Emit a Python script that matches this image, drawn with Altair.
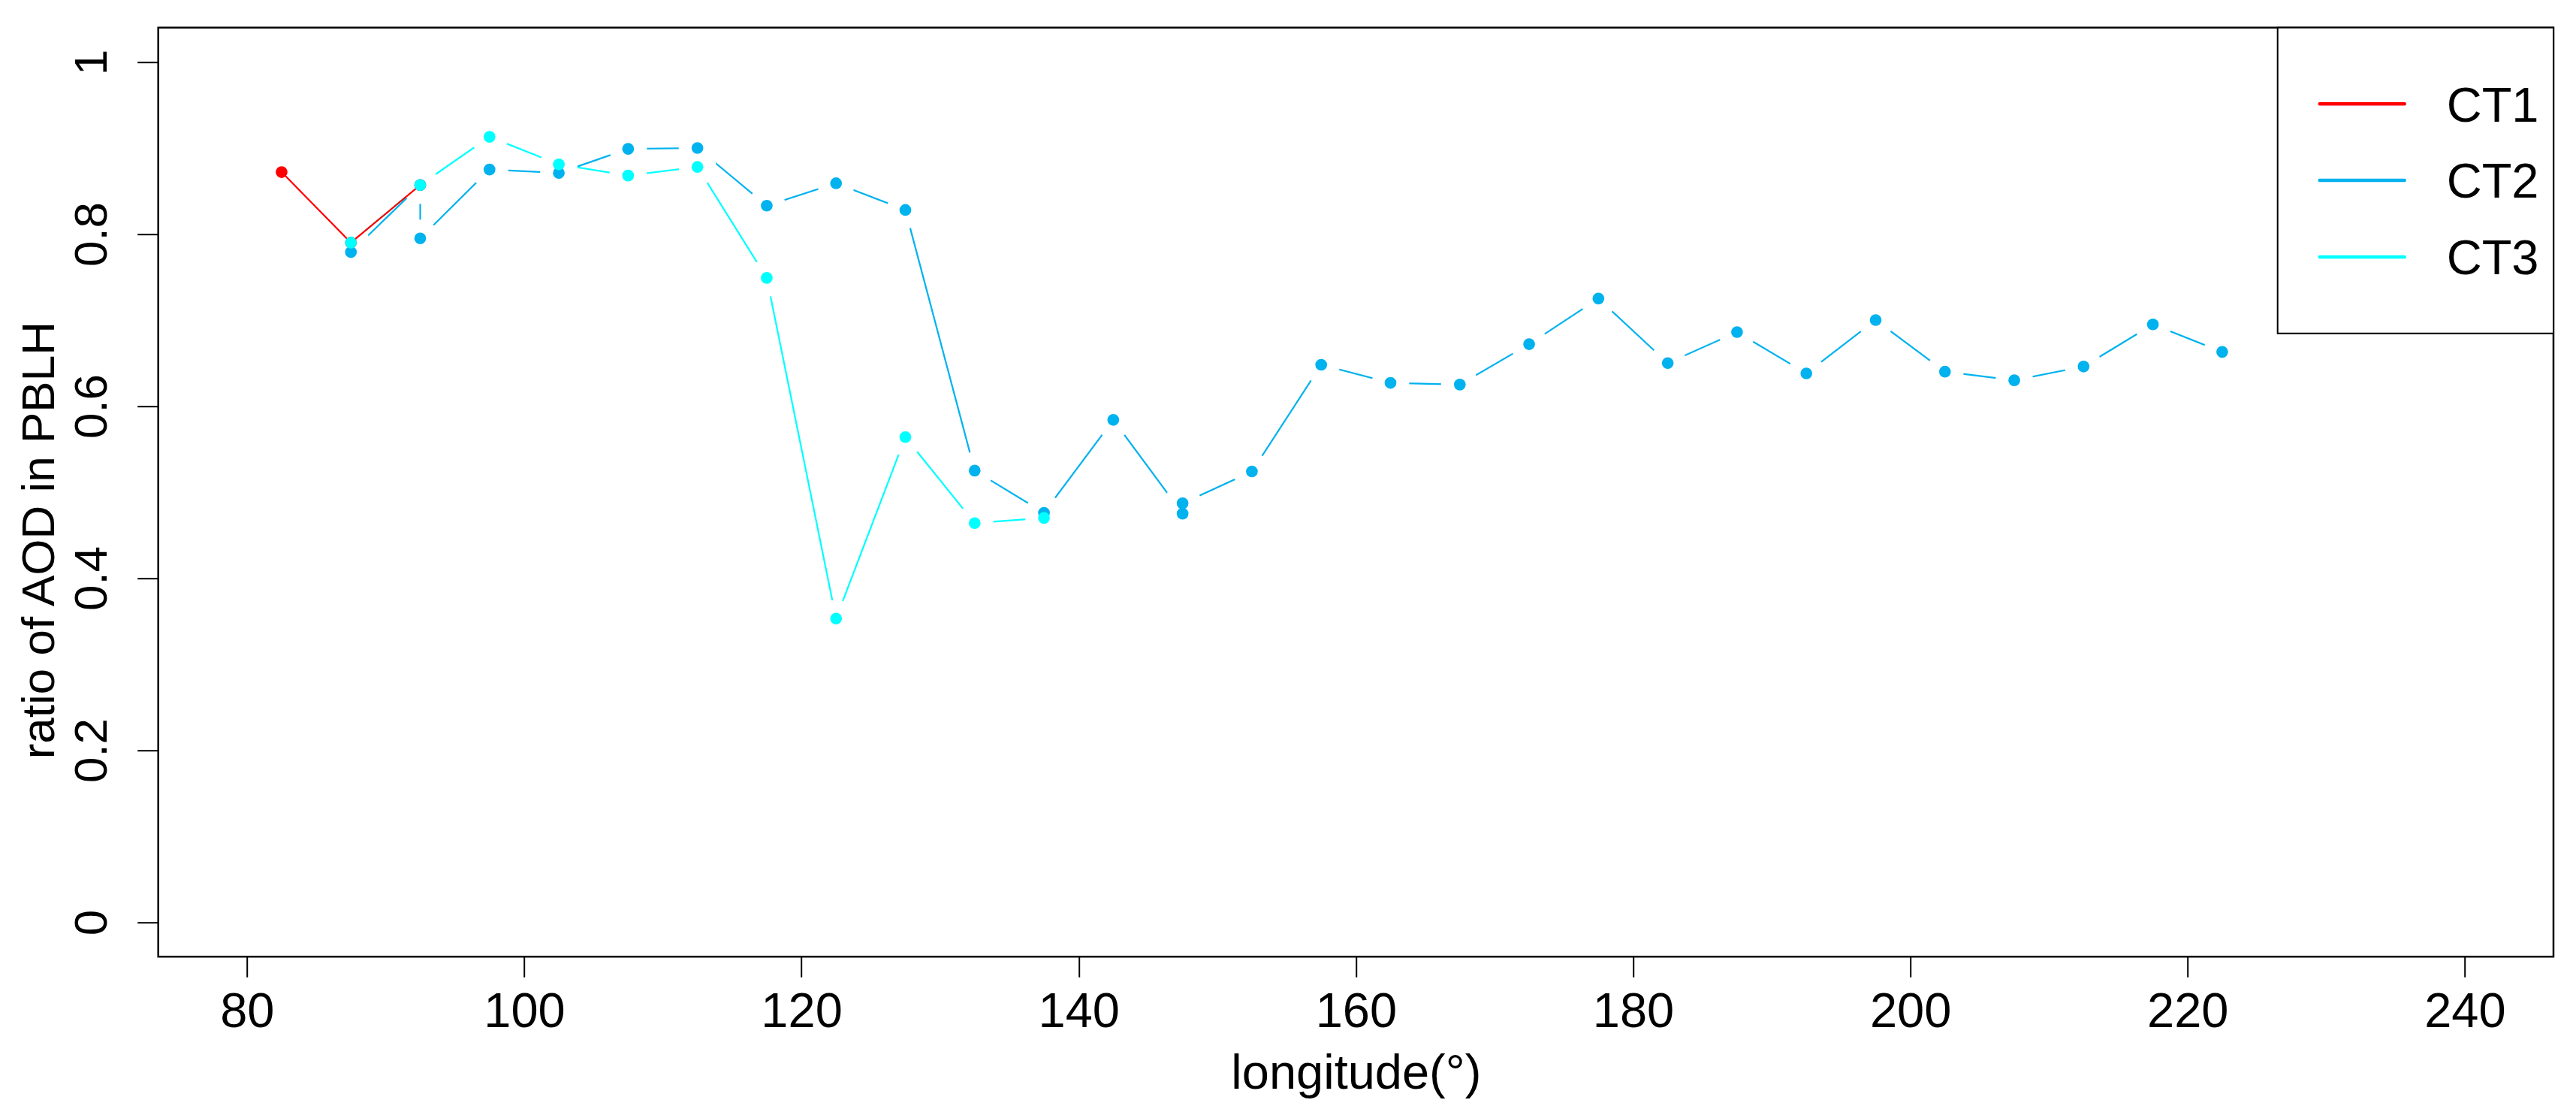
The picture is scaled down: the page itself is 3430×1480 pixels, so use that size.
import altair as alt
import pandas as pd

# ---------------- data ----------------
series_names = ["CT1", "CT2", "CT3"]
series_colors = ["#FF0000", "#00B2EE", "#00FFFF"]

ct1_lon = [82.5, 87.5, 92.5]
ct1_val = [0.872, 0.790, 0.857]

ct2_lon = [87.5, 92.5, 92.5, 97.5, 102.5, 107.5, 112.5, 117.5, 122.5, 127.5,
           132.5, 137.5, 142.5, 147.5, 147.5, 152.5, 157.5, 162.5, 167.5, 172.5,
           177.5, 182.5, 187.5, 192.5, 197.5, 202.5, 207.5, 212.5, 217.5, 222.5]
ct2_val = [0.779, 0.857, 0.795, 0.875, 0.871, 0.899, 0.900, 0.833, 0.859, 0.828,
           0.525, 0.476, 0.584, 0.475, 0.487, 0.524, 0.648, 0.627, 0.625, 0.672,
           0.725, 0.650, 0.686, 0.638, 0.700, 0.640, 0.630, 0.646, 0.695, 0.663]

ct3_lon = [87.5, 92.5, 97.5, 102.5, 107.5, 112.5, 117.5, 122.5, 127.5, 132.5, 137.5]
ct3_val = [0.790, 0.857, 0.913, 0.881, 0.868, 0.878, 0.749, 0.353, 0.564, 0.464, 0.470]

x_ticks = [80, 100, 120, 140, 160, 180, 200, 220, 240]
y_ticks = [0, 0.2, 0.4, 0.6, 0.8, 1]
x_title = "longitude(°)"
y_title = "ratio of AOD in PBLH"

# ---------------- layout / style ----------------
FONT = "Liberation Sans"
W = 3189.3
H = 1236.6
FS = 65


def frame(lon, val):
    return pd.DataFrame({"lon": lon, "value": val, "idx": list(range(len(lon)))})


df1 = frame(ct1_lon, ct1_val)
df2 = frame(ct2_lon, ct2_val)
df3 = frame(ct3_lon, ct3_val)

x_axis = alt.Axis(
    values=x_ticks, domain=False, grid=False, ticks=True,
    tickSize=27, tickWidth=2, tickColor="black",
    labelFont=FONT, labelFontSize=FS, labelColor="black",
    labelBaseline="alphabetic", labelPadding=66, labelOverlap=False, labelFlush=False,
    title=x_title, titleFont=FONT, titleFontSize=FS, titleFontWeight="normal",
    titleColor="black", titleBaseline="alphabetic", titleAlign="center",
    titleX=W / 2, titleY=175,
)
y_axis = alt.Axis(
    values=y_ticks, format="~g", domain=False, grid=False, ticks=True,
    tickSize=28, tickWidth=2, tickColor="black",
    labelFont=FONT, labelFontSize=62, labelColor="black",
    labelAngle=270, labelAlign="center", labelBaseline="alphabetic",
    labelPadding=41, labelOverlap=False, labelFlush=False,
    title=y_title, titleFont=FONT, titleFontSize=62, titleFontWeight="normal",
    titleColor="black", titleAngle=270, titleBaseline="alphabetic",
    titleAlign="center", titleX=-139, titleY=682,
)

X = alt.X("lon:Q", scale=alt.Scale(domain=[73.6, 246.4], nice=False, zero=False), axis=x_axis)
Y = alt.Y("value:Q", scale=alt.Scale(domain=[-0.04, 1.04], nice=False, zero=False), axis=y_axis)

LW = 2.2
PT = 245
HALO = 2500


def line(df, color):
    return alt.Chart(df).mark_line(color=color, strokeWidth=LW).encode(x=X, y=Y, order="idx:Q")


def halo(df):
    return alt.Chart(df).mark_circle(color="white", opacity=1, size=HALO).encode(x=X, y=Y)


def pts(df, color):
    return alt.Chart(df).mark_circle(color=color, opacity=1, size=PT).encode(x=X, y=Y)


c1, c2, c3 = series_colors

layers = [
    line(df2, c2), line(df3, c3),
    halo(df2), halo(df3),
    line(df1, c1),
    pts(df1, c1), pts(df2, c2), pts(df3, c3),
]

# ---------------- legend (drawn as a box with keys) ----------------
one = pd.DataFrame({"k": [0]})
box = alt.Chart(one).mark_rect(fill="white", stroke="black", strokeWidth=2).encode(
    x=alt.value(2822), x2=alt.value(W), y=alt.value(0), y2=alt.value(407)
)
layers.append(box)
for i, (name, col) in enumerate(zip(series_names, series_colors)):
    ly = 101.6 + i * 101.8
    layers.append(
        alt.Chart(one).mark_rule(color=col, strokeWidth=4.5, strokeCap="round").encode(
            x=alt.value(2878), x2=alt.value(2991), y=alt.value(ly)
        )
    )
    layers.append(
        alt.Chart(one).mark_text(
            text=name, font=FONT, fontSize=FS, align="left", baseline="alphabetic", color="black"
        ).encode(x=alt.value(3047), y=alt.value(ly + 23.4))
    )

chart = (
    alt.layer(*layers)
    .properties(
        width=W, height=H,
        padding={"left": 202.7, "top": 28.7, "right": 10, "bottom": 190},
        autosize=alt.AutoSizeParams(type="none"),
        background="white",
    )
    .configure_view(stroke="black", strokeWidth=2.5)
)

chart.save("out.html", embed_options={"renderer": "svg", "actions": False})
